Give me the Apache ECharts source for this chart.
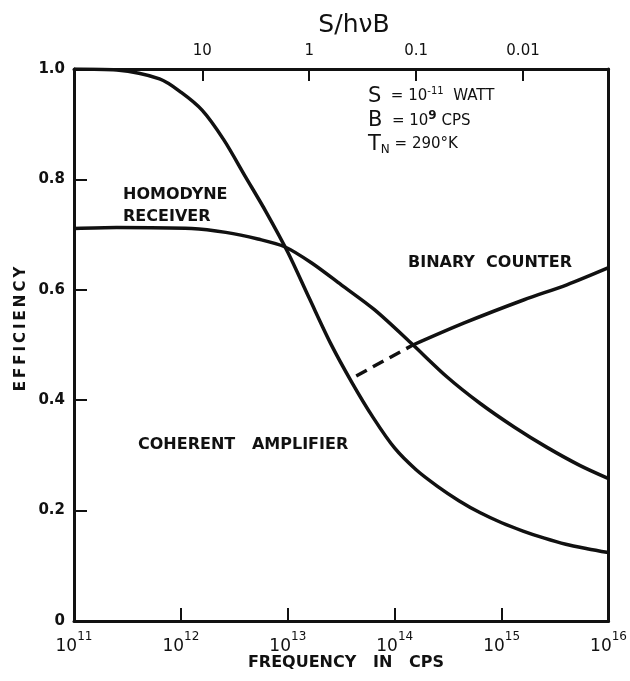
<!DOCTYPE html>
<html>
<head>
<meta charset="utf-8">
<script src="https://cdn.jsdelivr.net/npm/echarts@6/dist/echarts.min.js"></script>
<style>
  html, body { margin: 0; padding: 0; background: #fff; }
  #chart { width: 630px; height: 681px; }
</style>
</head>
<body>
<div id="chart"></div>
<script>
  // frequency exponents (log10 of cps)
  var coherentExp = [11.0, 11.4, 11.8, 12.0, 12.2, 12.4, 12.6, 12.8, 13.0, 13.2, 13.4, 13.6, 13.8, 14.0, 14.2, 14.4, 14.6, 14.8, 15.0, 15.2, 15.4, 15.6, 15.8, 16.0];
  var coherentEff = [1.0, 0.998, 0.982, 0.958, 0.925, 0.872, 0.806, 0.74, 0.668, 0.585, 0.503, 0.432, 0.368, 0.313, 0.274, 0.244, 0.218, 0.196, 0.178, 0.163, 0.15, 0.139, 0.131, 0.124];

  var homodyneExp = [11.0, 11.4, 12.1, 12.42, 12.72, 12.97, 13.22, 13.5, 13.81, 14.15, 14.49, 14.8, 15.12, 15.42, 15.73, 16.0];
  var homodyneEff = [0.711, 0.713, 0.711, 0.704, 0.692, 0.678, 0.649, 0.609, 0.564, 0.504, 0.442, 0.394, 0.351, 0.315, 0.282, 0.258];

  var binaryDashExp = [13.64, 14.17];
  var binaryDashEff = [0.444, 0.5];
  var binaryExp = [14.17, 14.65, 15.21, 15.61, 16.0];
  var binaryEff = [0.5, 0.54, 0.582, 0.609, 0.64];

  var yTicks = [0, 0.2, 0.4, 0.6, 0.8, 1.0];
  var topTickValues = [10, 1, 0.1, 0.01];
  var topTickLabels = ['10', '1', '0.1', '0.01'];

  var FONT = 'DejaVu Sans';
  var INK = '#111';

  function pairs(exps, vals) {
    return exps.map(function (e, i) { return [Math.pow(10, e), vals[i]]; });
  }

  // top axis in units of -log10(S/hvB)
  var topPos = topTickValues.map(function (v) { return -Math.log10(v); });

  var chart = echarts.init(document.getElementById('chart'));

  var lineBase = {
    type: 'line',
    showSymbol: false,
    smooth: 0.3,
    silent: true
  };

  var option = {
    backgroundColor: '#fff',
    animation: false,
    grid: { left: 74, right: 18, top: 69, bottom: 60 },
    xAxis: [
      {
        type: 'log',
        logBase: 10,
        min: 1e11,
        max: 1e16,
        position: 'bottom',
        axisLine: { onZero: false, lineStyle: { color: INK, width: 3 } },
        axisTick: { inside: true, length: 13, lineStyle: { color: INK, width: 2 } },
        splitLine: { show: false },
        minorTick: { show: false },
        axisLabel: {
          margin: 10,
          formatter: function (v) {
            return '{b|10}{s|' + Math.round(Math.log10(v)) + '}';
          },
          rich: {
            b: { fontFamily: FONT, fontSize: 17, color: INK, padding: [7, 0, 0, 0] },
            s: { fontFamily: FONT, fontSize: 12, color: INK, verticalAlign: 'top', padding: [0, 0, 8, 0] }
          }
        }
      },
      {
        type: 'value',
        min: -2.2,
        max: 2.8,
        position: 'top',
        axisLine: { onZero: false, lineStyle: { color: INK, width: 3 } },
        axisTick: { inside: true, length: 12, customValues: topPos, lineStyle: { color: INK, width: 2 } },
        splitLine: { show: false },
        axisLabel: {
          margin: 10,
          customValues: topPos,
          fontFamily: FONT,
          fontSize: 15,
          color: INK,
          formatter: function (v) {
            var i = topPos.findIndex(function (p) { return Math.abs(p - v) < 1e-6; });
            return i >= 0 ? topTickLabels[i] : '';
          }
        }
      }
    ],
    yAxis: [
      {
        type: 'value',
        min: 0,
        max: 1.0,
        interval: 0.2,
        axisLine: { show: true, onZero: false, lineStyle: { color: INK, width: 3 } },
        axisTick: { show: true, inside: true, length: 13, lineStyle: { color: INK, width: 2 } },
        splitLine: { show: false },
        axisLabel: {
          margin: 9,
          fontFamily: FONT,
          fontSize: 15,
          fontWeight: 'bold',
          color: INK,
          formatter: function (v) {
            var i = yTicks.findIndex(function (t) { return Math.abs(t - v) < 1e-6; });
            if (i < 0) return '';
            if (v === 0) return '0';
            return v.toFixed(1);
          }
        }
      },
      {
        type: 'value',
        min: 0,
        max: 1.0,
        position: 'right',
        axisLine: { show: true, onZero: false, lineStyle: { color: INK, width: 3 } },
        axisTick: { show: false },
        axisLabel: { show: false },
        splitLine: { show: false }
      }
    ],
    series: [
      Object.assign({}, lineBase, {
        name: 'COHERENT AMPLIFIER',
        data: pairs(coherentExp, coherentEff),
        lineStyle: { color: INK, width: 3.5 }
      }),
      Object.assign({}, lineBase, {
        name: 'HOMODYNE RECEIVER',
        data: pairs(homodyneExp, homodyneEff),
        lineStyle: { color: INK, width: 3.5 }
      }),
      Object.assign({}, lineBase, {
        name: 'BINARY COUNTER (dashed)',
        smooth: false,
        data: pairs(binaryDashExp, binaryDashEff),
        lineStyle: { color: INK, width: 3.5, type: [12, 7] }
      }),
      Object.assign({}, lineBase, {
        name: 'BINARY COUNTER',
        data: pairs(binaryExp, binaryEff),
        lineStyle: { color: INK, width: 3.5 }
      })
    ],
    graphic: [
      { type: 'text', x: 354, y: 25, style: { text: 'S/hνB', font: '25px "DejaVu Sans"', fill: INK, align: 'center', verticalAlign: 'middle' } },
      { type: 'text', x: 346, y: 663, style: { text: 'FREQUENCY   IN   CPS', font: 'bold 16px "DejaVu Sans"', fill: INK, align: 'center', verticalAlign: 'middle' } },
      { type: 'text', x: 21, y: 329, rotation: Math.PI / 2, style: { text: 'E\u2009F\u2009F\u2009I\u2009C\u2009I\u2009E\u2009N\u2009C\u2009Y', font: 'bold 15px "DejaVu Sans"', fill: INK, align: 'center', verticalAlign: 'middle' } },
      { type: 'text', left: 123, top: 187, style: { text: 'HOMODYNE', font: 'bold 16px "DejaVu Sans"', fill: INK } },
      { type: 'text', left: 123, top: 209, style: { text: 'RECEIVER', font: 'bold 16px "DejaVu Sans"', fill: INK } },
      { type: 'text', left: 408, top: 255, style: { text: 'BINARY  COUNTER', font: 'bold 16px "DejaVu Sans"', fill: INK } },
      { type: 'text', left: 138, top: 437, style: { text: 'COHERENT   AMPLIFIER', font: 'bold 16px "DejaVu Sans"', fill: INK } },
      {
        type: 'text', left: 368, top: 86,
        style: {
          text: '{v|S}{t|  = 10}{sup|-11}{t|  WATT}',
          rich: {
            v: { fontFamily: FONT, fontSize: 21, fill: INK },
            t: { fontFamily: FONT, fontSize: 15, fill: INK },
            sup: { fontFamily: FONT, fontSize: 10, fill: INK, verticalAlign: 'top', padding: [0, 0, 10, 0] }
          }
        }
      },
      {
        type: 'text', left: 368, top: 110,
        style: {
          text: '{v|B}{t|  = 10}{sup|9}{t| CPS}',
          rich: {
            v: { fontFamily: FONT, fontSize: 21, fill: INK },
            t: { fontFamily: FONT, fontSize: 15, fill: INK },
            sup: { fontFamily: FONT, fontSize: 12, fontWeight: 'bold', fill: INK, verticalAlign: 'top', padding: [0, 0, 10, 0] }
          }
        }
      },
      {
        type: 'text', left: 368, top: 134,
        style: {
          text: '{v|T}{sub|N}{t| = 290°K}',
          rich: {
            v: { fontFamily: FONT, fontSize: 21, fill: INK },
            t: { fontFamily: FONT, fontSize: 15, fill: INK },
            sub: { fontFamily: FONT, fontSize: 12, fill: INK, verticalAlign: 'bottom', padding: [10, 0, 0, 0] }
          }
        }
      }
    ]
  };

  chart.setOption(option);
</script>
</body>
</html>
